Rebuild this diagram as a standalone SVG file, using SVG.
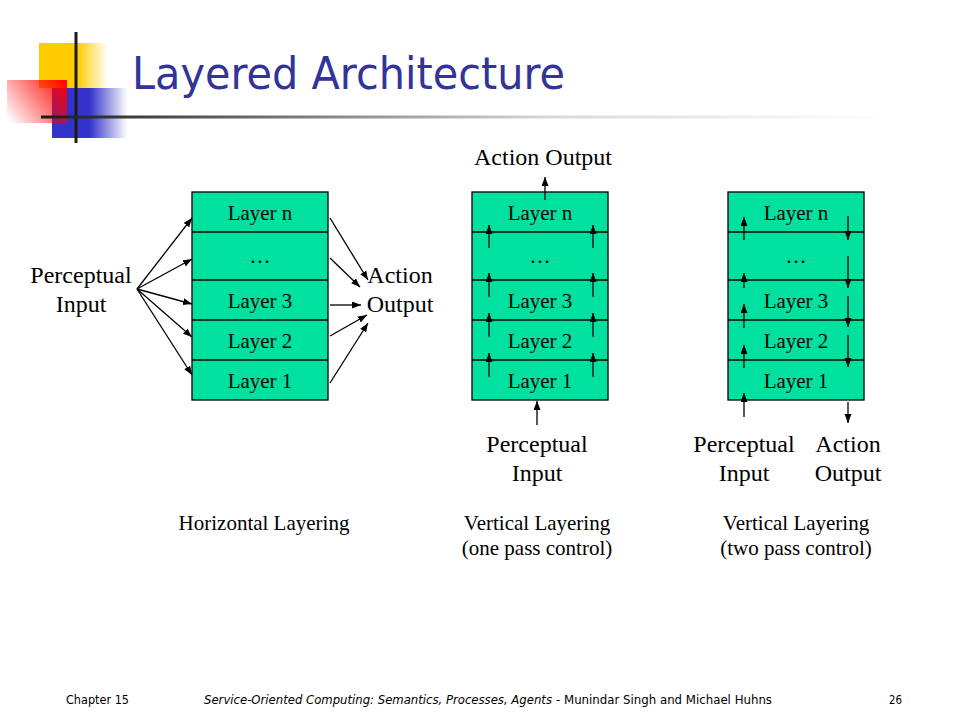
<svg xmlns="http://www.w3.org/2000/svg" width="960" height="720" viewBox="0 0 960 720">
<style>
.box{fill:#00E09E;stroke:#000;stroke-width:1.3}
.sep{stroke:#000;stroke-width:1.3}
.lt{font-family:"Liberation Serif","Times New Roman",serif;font-size:21px;fill:#000;text-anchor:middle}
.big{font-family:"Liberation Serif","Times New Roman",serif;font-size:24px;fill:#000;text-anchor:middle}
.cap{font-family:"Liberation Serif","Times New Roman",serif;font-size:21px;fill:#000;text-anchor:middle}
.arr{stroke:#000;stroke-width:1.3;fill:none;marker-end:url(#ah)}
.ft{font-family:"DejaVu Sans","Liberation Sans",sans-serif;font-size:11.5px;fill:#000}
</style>
<defs>
<marker id="ah" markerUnits="userSpaceOnUse" markerWidth="10" markerHeight="8" refX="9" refY="3.5" orient="auto">
<path d="M0,0 L9,3.5 L0,7 z" fill="#000"/>
</marker>
<linearGradient id="gy" x1="39" y1="0" x2="108" y2="0" gradientUnits="userSpaceOnUse">
<stop offset="0" stop-color="#FFCC00"/>
<stop offset="0.55" stop-color="#FFCC00"/>
<stop offset="1" stop-color="#FFCC00" stop-opacity="0"/>
</linearGradient>
<linearGradient id="gb" x1="52" y1="0" x2="127" y2="0" gradientUnits="userSpaceOnUse">
<stop offset="0" stop-color="#3333CC"/>
<stop offset="0.5" stop-color="#3333CC"/>
<stop offset="1" stop-color="#3333CC" stop-opacity="0"/>
</linearGradient>
<linearGradient id="gr" x1="67" y1="80" x2="10" y2="123" gradientUnits="userSpaceOnUse">
<stop offset="0" stop-color="#FF0000"/>
<stop offset="1" stop-color="#FF0000" stop-opacity="0"/>
</linearGradient>
<linearGradient id="gl" x1="41" y1="0" x2="890" y2="0" gradientUnits="userSpaceOnUse">
<stop offset="0" stop-color="#1a1a1a"/>
<stop offset="0.6" stop-color="#d8d8d8"/>
<stop offset="1" stop-color="#ffffff"/>
</linearGradient>
</defs>
<rect width="960" height="720" fill="#fff"/>

<g id="logo">
<rect x="39" y="43" width="69" height="45" fill="url(#gy)"/>
<rect x="52" y="88" width="75" height="50" fill="url(#gb)"/>
<rect x="7" y="80" width="60" height="43" fill="url(#gr)"/>
<line x1="76" y1="32" x2="76" y2="143" stroke="#1a1a1a" stroke-width="3"/>
<rect x="41" y="115.5" width="849" height="3" fill="url(#gl)"/>
</g>

<g id="title">
<text x="132" y="89" font-family="DejaVu Sans, Liberation Sans, sans-serif" font-size="44" fill="#333399" textLength="433" lengthAdjust="spacingAndGlyphs">Layered Architecture</text>
</g>

<g id="horizontal">
<rect class="box" x="192" y="192" width="136" height="208"/>
<line class="sep" x1="192" y1="232" x2="328" y2="232"/>
<line class="sep" x1="192" y1="280" x2="328" y2="280"/>
<line class="sep" x1="192" y1="320" x2="328" y2="320"/>
<line class="sep" x1="192" y1="360" x2="328" y2="360"/>
<text class="lt" x="260" y="220">Layer n</text>
<text class="lt" x="260" y="263">…</text>
<text class="lt" x="260" y="308">Layer 3</text>
<text class="lt" x="260" y="348">Layer 2</text>
<text class="lt" x="260" y="388">Layer 1</text>
</g>

<g id="horizontal-labels">
<text class="big" x="81" y="283">Perceptual</text>
<text class="big" x="81" y="312">Input</text>
<text class="big" x="400" y="283">Action</text>
<text class="big" x="400" y="312">Output</text>
<text class="cap" x="264" y="530">Horizontal Layering</text>
</g>

<g id="vertical-one">
<rect class="box" x="472" y="192" width="136" height="208"/>
<line class="sep" x1="472" y1="232" x2="608" y2="232"/>
<line class="sep" x1="472" y1="280" x2="608" y2="280"/>
<line class="sep" x1="472" y1="320" x2="608" y2="320"/>
<line class="sep" x1="472" y1="360" x2="608" y2="360"/>
<text class="lt" x="540" y="220">Layer n</text>
<text class="lt" x="540" y="263">…</text>
<text class="lt" x="540" y="308">Layer 3</text>
<text class="lt" x="540" y="348">Layer 2</text>
<text class="lt" x="540" y="388">Layer 1</text>
</g>

<g id="vertical-one-labels">
<text class="big" x="543" y="165">Action Output</text>
<text class="big" x="537" y="452">Perceptual</text>
<text class="big" x="537" y="481">Input</text>
<text class="cap" x="537" y="530">Vertical Layering</text>
<text class="cap" x="537" y="555">(one pass control)</text>
</g>

<g id="vertical-two">
<rect class="box" x="728" y="192" width="136" height="208"/>
<line class="sep" x1="728" y1="232" x2="864" y2="232"/>
<line class="sep" x1="728" y1="280" x2="864" y2="280"/>
<line class="sep" x1="728" y1="320" x2="864" y2="320"/>
<line class="sep" x1="728" y1="360" x2="864" y2="360"/>
<text class="lt" x="796" y="220">Layer n</text>
<text class="lt" x="796" y="263">…</text>
<text class="lt" x="796" y="308">Layer 3</text>
<text class="lt" x="796" y="348">Layer 2</text>
<text class="lt" x="796" y="388">Layer 1</text>
</g>

<g id="vertical-two-labels">
<text class="big" x="744" y="452">Perceptual</text>
<text class="big" x="744" y="481">Input</text>
<text class="big" x="848" y="452">Action</text>
<text class="big" x="848" y="481">Output</text>
<text class="cap" x="796" y="530">Vertical Layering</text>
<text class="cap" x="796" y="555">(two pass control)</text>
</g>

<g id="connectors">
<line class="arr" x1="137" y1="289" x2="192" y2="218"/>
<line class="arr" x1="137" y1="289" x2="192" y2="259"/>
<line class="arr" x1="137" y1="289" x2="192" y2="304"/>
<line class="arr" x1="137" y1="289" x2="192" y2="337"/>
<line class="arr" x1="137" y1="289" x2="192" y2="375"/>
<line class="arr" x1="330" y1="218" x2="368" y2="280"/>
<line class="arr" x1="330" y1="258" x2="360" y2="287"/>
<line class="arr" x1="330" y1="305" x2="361" y2="305"/>
<line class="arr" x1="330" y1="336" x2="367" y2="315"/>
<line class="arr" x1="330" y1="383" x2="368" y2="323"/>

<line class="arr" x1="545" y1="200" x2="545" y2="177"/>
<line class="arr" x1="537" y1="425" x2="537" y2="401"/>
<line class="arr" x1="489" y1="248" x2="489" y2="225"/>
<line class="arr" x1="489" y1="297" x2="489" y2="273"/>
<line class="arr" x1="489" y1="337" x2="489" y2="313"/>
<line class="arr" x1="489" y1="377" x2="489" y2="353"/>
<line class="arr" x1="593" y1="248" x2="593" y2="225"/>
<line class="arr" x1="593" y1="297" x2="593" y2="273"/>
<line class="arr" x1="593" y1="337" x2="593" y2="313"/>
<line class="arr" x1="593" y1="377" x2="593" y2="353"/>

<line class="arr" x1="744" y1="240" x2="744" y2="217"/>
<line class="arr" x1="744" y1="288" x2="744" y2="273"/>
<line class="arr" x1="744" y1="328" x2="744" y2="304"/>
<line class="arr" x1="744" y1="368" x2="744" y2="345"/>
<line class="arr" x1="744" y1="417" x2="744" y2="393"/>
<line class="arr" x1="848" y1="216" x2="848" y2="240"/>
<line class="arr" x1="848" y1="256" x2="848" y2="288"/>
<line class="arr" x1="848" y1="296" x2="848" y2="327"/>
<line class="arr" x1="848" y1="335" x2="848" y2="367"/>
<line class="arr" x1="848" y1="402" x2="848" y2="423"/>
</g>

<g id="footer">
<text class="ft" x="66" y="704" textLength="63" lengthAdjust="spacingAndGlyphs">Chapter 15</text>
<text class="ft" x="204" y="704" font-style="italic" textLength="348" lengthAdjust="spacingAndGlyphs">Service-Oriented Computing: Semantics, Processes, Agents</text>
<text class="ft" x="556" y="704" textLength="216" lengthAdjust="spacingAndGlyphs">- Munindar Singh and Michael Huhns</text>
<text class="ft" x="889" y="704" textLength="13" lengthAdjust="spacingAndGlyphs">26</text>
</g>
</svg>
